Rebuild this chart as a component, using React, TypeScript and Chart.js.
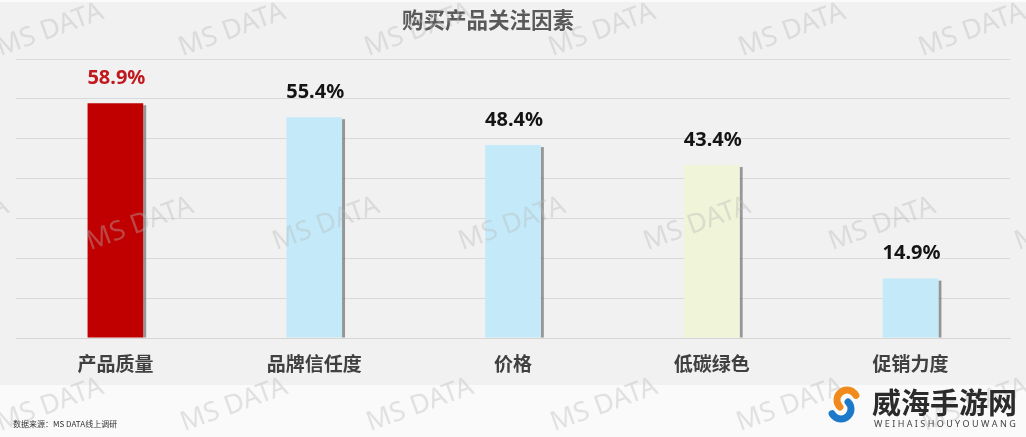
import React, { useEffect, useRef } from "react";
import { Chart, registerables } from "chart.js";

Chart.register(...registerables);

const categories = ["产品质量", "品牌信任度", "价格", "低碳绿色", "促销力度"];
const shares = [58.9, 55.4, 48.4, 43.4, 14.9];
const barColors = ["#c00000", "#c4eafa", "#c4eafa", "#f0f4d8", "#c4eafa"];
const valueLabelColors = ["#c0181c", "#141414", "#141414", "#141414", "#141414"];
const yMin = 0;
const yMax = 70;
const yStep = 10;

const titleText = "购买产品关注因素";
const sourceText = "数据来源：MS DATA线上调研";
const logoText = "威海手游网";
const logoSub = "WEIHAISHOUYOUWANG";
const watermarkText = "MS DATA";

const CJK = '"Noto Sans CJK SC", "Noto Sans", sans-serif';
const NUM = '"Noto Sans", "Open Sans", "Noto Sans CJK SC", sans-serif';

const decorPlugin = {
  id: "decor",
  beforeDraw(chart: any) {
    const { ctx, width, height } = chart;
    ctx.save();
    ctx.fillStyle = "#fafafa";
    ctx.fillRect(0, 0, width, height);
    ctx.fillStyle = "#f1f1f1";
    ctx.fillRect(0, 2, width, 383);
    ctx.restore();
  },
  beforeDatasetsDraw(chart: any) {
    const { ctx } = chart;
    const meta = chart.getDatasetMeta(0);
    ctx.save();
    ctx.fillStyle = "rgba(90,90,90,0.6)";
    meta.data.forEach((el: any) => {
      const p = el.getProps(["x", "y", "base", "width"], true);
      ctx.fillRect(p.x + p.width / 2, p.y + 2, 3, p.base - p.y - 2);
    });
    ctx.restore();
  },
  afterDatasetsDraw(chart: any) {
    const { ctx } = chart;
    const meta = chart.getDatasetMeta(0);
    ctx.save();
    ctx.font = `bold 20px ${NUM}`;
    ctx.textAlign = "center";
    ctx.textBaseline = "middle";
    meta.data.forEach((el: any, i: number) => {
      const p = el.getProps(["x", "y"], true);
      ctx.fillStyle = valueLabelColors[i];
      ctx.fillText(shares[i].toFixed(1) + "%", p.x + 1, p.y - 25);
    });
    ctx.restore();
  },
  afterDraw(chart: any) {
    const { ctx } = chart;
    ctx.save();
    // title
    ctx.font = `bold 21.5px ${CJK}`;
    ctx.fillStyle = "#595959";
    ctx.textAlign = "center";
    ctx.textBaseline = "middle";
    ctx.fillText(titleText, 488, 20);

    // source
    ctx.font = `8px ${CJK}`;
    ctx.fillStyle = "#333333";
    ctx.textAlign = "left";
    ctx.fillText(sourceText, 13, 424);

    // watermarks
    ctx.font = `27px ${NUM}`;
    ctx.fillStyle = "rgba(185,185,185,0.38)";
    ctx.textAlign = "center";
    const rows = [
      { y: 30, xs: [50, 232, 418, 602, 792, 972] },
      { y: 224, xs: [-45, 140, 326, 512, 697, 882, 1068] },
      { y: 405, xs: [50, 234, 420, 604, 790, 975] },
    ];
    rows.forEach((r) => {
      r.xs.forEach((x) => {
        ctx.save();
        ctx.translate(x, r.y);
        ctx.rotate((-20 * Math.PI) / 180);
        ctx.fillText(watermarkText, 0, 0);
        ctx.restore();
      });
    });

    // logo icon
    ctx.lineCap = "round";
    ctx.lineWidth = 7;
    ctx.strokeStyle = "#f08a1c";
    ctx.beginPath();
    ctx.arc(847, 400, 10, 0.75 * Math.PI, 1.85 * Math.PI);
    ctx.stroke();
    ctx.strokeStyle = "#1c78c8";
    ctx.beginPath();
    ctx.arc(841, 409, 10, -0.25 * Math.PI, 0.85 * Math.PI);
    ctx.stroke();

    // logo text
    ctx.font = `bold 29px ${CJK}`;
    ctx.fillStyle = "#2b2b2b";
    ctx.textAlign = "left";
    ctx.textBaseline = "middle";
    ctx.fillText(logoText, 872, 403);
    ctx.font = `9px ${NUM}`;
    ctx.fillStyle = "#444444";
    let x = 874;
    for (const ch of logoSub) {
      ctx.fillText(ch, x, 424);
      x += ctx.measureText(ch).width + 2.4;
    }
    ctx.restore();
  },
};

export default function App() {
  const ref = useRef<HTMLCanvasElement | null>(null);

  useEffect(() => {
    document.body.style.margin = "0";
    const canvas = ref.current!;
    const chart = new Chart(canvas, {
      type: "bar",
      data: {
        labels: categories,
        datasets: [
          {
            data: shares,
            backgroundColor: barColors,
            borderWidth: 0,
            categoryPercentage: 1,
            barPercentage: 0.28,
          },
        ],
      },
      options: {
        responsive: false,
        animation: false,
        devicePixelRatio: 1,
        layout: { padding: { top: 59, left: 16, right: 16, bottom: 0 } },
        plugins: {
          legend: { display: false },
          tooltip: { enabled: false },
          title: { display: false },
        },
        scales: {
          x: {
            grid: { display: false, drawTicks: false },
            border: { display: true, color: "#d6d6d6" },
            ticks: {
              padding: 14,
              color: "#404040",
              font: { family: CJK, size: 19, weight: "bold" },
            },
            afterFit: (s: any) => {
              s.height = 99;
            },
          },
          y: {
            min: yMin,
            max: yMax,
            ticks: { display: false, stepSize: yStep },
            grid: { color: "#d9d9d9", drawTicks: false },
            border: { display: false },
            afterFit: (s: any) => {
              s.width = 0;
            },
          },
        },
      },
      plugins: [decorPlugin],
    });
    return () => chart.destroy();
  }, []);

  return (
    <div style={{ position: "absolute", left: 0, top: 0, width: 1026, height: 437 }}>
      <canvas ref={ref} width={1026} height={437} />
    </div>
  );
}
